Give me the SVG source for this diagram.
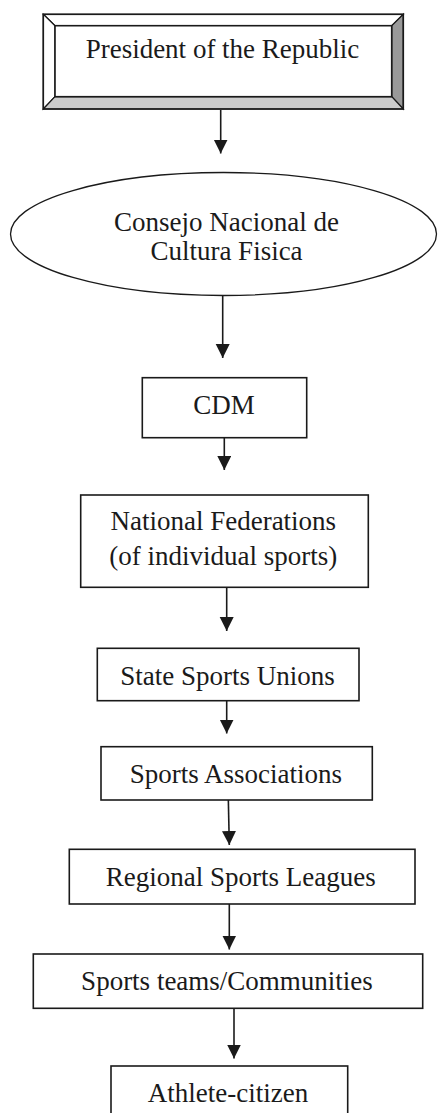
<svg xmlns="http://www.w3.org/2000/svg" width="438" height="1113" viewBox="0 0 438 1113">
<style>
  .box { fill: #ffffff; stroke: #1a1a1a; stroke-width: 1.6; }
  .lbl { font-family: "Liberation Serif", "Times New Roman", serif; font-size: 27px; fill: #1a1a1a; text-anchor: middle; }
  .conn { stroke: #1a1a1a; stroke-width: 1.6; fill: none; marker-end: url(#arrow); }
  .bev { stroke: #1a1a1a; stroke-width: 1.2; }
</style>
<defs>
  <marker id="arrow" markerUnits="userSpaceOnUse" markerWidth="15" markerHeight="15" refX="14" refY="7" orient="auto">
    <path d="M0,0 L14,7 L0,14 z" fill="#1a1a1a"/>
  </marker>
</defs>
<rect width="438" height="1113" fill="#ffffff"/>

<g id="connectors">
  <line class="conn" x1="220.7" y1="110" x2="220.7" y2="153.5"/>
  <line class="conn" x1="222.7" y1="296" x2="222.7" y2="358"/>
  <line class="conn" x1="224.3" y1="438" x2="224.3" y2="470"/>
  <line class="conn" x1="226.7" y1="587.5" x2="226.7" y2="631"/>
  <line class="conn" x1="226.7" y1="701" x2="226.7" y2="733.5"/>
  <line class="conn" x1="228.3" y1="798" x2="229.3" y2="845"/>
  <line class="conn" x1="229.3" y1="904" x2="229.3" y2="949.5"/>
  <line class="conn" x1="234" y1="1008.5" x2="234" y2="1058.5"/>
</g>

<g id="node-president">
  <polygon class="bev" points="43.3,14.3 403.3,14.3 391.7,25.7 55,25.7" fill="#ffffff"/>
  <polygon class="bev" points="43.3,14.3 55,25.7 55,96.7 43.3,109" fill="#ffffff"/>
  <polygon class="bev" points="403.3,14.3 403.3,109 391.7,96.7 391.7,25.7" fill="#999999"/>
  <polygon class="bev" points="43.3,109 55,96.7 391.7,96.7 403.3,109" fill="#cccccc"/>
  <rect x="55" y="25.7" width="336.7" height="71" fill="#ffffff" stroke="#1a1a1a" stroke-width="1.6"/>
  <rect x="43.3" y="14.3" width="360" height="94.7" fill="none" stroke="#1a1a1a" stroke-width="1.6"/>
  <text class="lbl" x="222.5" y="58">President of the Republic</text>
</g>

<g id="node-consejo">
  <ellipse cx="223.5" cy="234" rx="213" ry="61.5" fill="#ffffff" stroke="#1a1a1a" stroke-width="1.3"/>
  <text class="lbl" x="226.5" y="231">Consejo Nacional de</text>
  <text class="lbl" x="226.5" y="260">Cultura Fisica</text>
</g>

<g id="node-cdm">
  <rect class="box" x="142.3" y="377.7" width="164.4" height="60"/>
  <text class="lbl" x="224" y="414">CDM</text>
</g>

<g id="node-federations">
  <rect class="box" x="80.7" y="495" width="287.6" height="92.3"/>
  <text class="lbl" x="223.3" y="529.5">National Federations</text>
  <text class="lbl" x="223.3" y="564.5">(of individual sports)</text>
</g>

<g id="node-state-unions">
  <rect class="box" x="97.3" y="648.3" width="261.7" height="52.4"/>
  <text class="lbl" x="227.5" y="685">State Sports Unions</text>
</g>

<g id="node-associations">
  <rect class="box" x="101" y="746.7" width="271.3" height="53.3"/>
  <text class="lbl" x="235.8" y="783.3">Sports Associations</text>
</g>

<g id="node-regional-leagues">
  <rect class="box" x="69.3" y="849.3" width="345.7" height="54.7"/>
  <text class="lbl" x="240.8" y="885.7">Regional Sports Leagues</text>
</g>

<g id="node-teams">
  <rect class="box" x="33.3" y="954" width="389.4" height="54.3"/>
  <text class="lbl" x="227" y="990">Sports teams/Communities</text>
</g>

<g id="node-athlete">
  <rect class="box" x="111" y="1066" width="236.7" height="60"/>
  <text class="lbl" x="228" y="1102">Athlete-citizen</text>
</g>
</svg>
